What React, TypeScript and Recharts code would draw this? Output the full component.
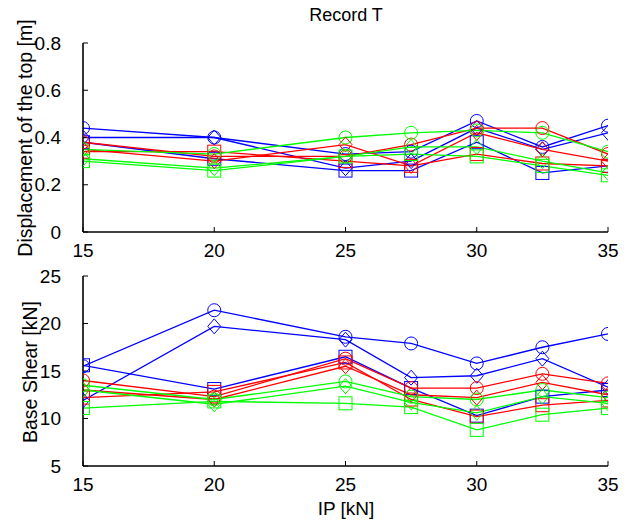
import React from 'react';
import { LineChart, Line, XAxis, YAxis } from 'recharts';

const ipValues = [15, 20, 25, 27.5, 30, 32.5, 35];
const xTicks = [15, 20, 25, 30, 35];
const dispTicks = [0, 0.2, 0.4, 0.6, 0.8];
const shearTicks = [5, 10, 15, 20, 25];

// Displacement of the top [m]
const dispBlueCircle = [0.44, 0.40, 0.33, 0.34, 0.47, 0.36, 0.45];
const dispBlueDiamond = [0.40, 0.40, 0.27, 0.30, 0.44, 0.35, 0.42];
const dispBlueSquare = [0.38, 0.31, 0.26, 0.26, 0.38, 0.25, 0.28];
const dispRedCircle = [0.38, 0.32, 0.32, 0.37, 0.44, 0.44, 0.33];
const dispRedDiamond = [0.35, 0.30, 0.37, 0.28, 0.42, 0.35, 0.30];
const dispRedSquare = [0.34, 0.34, 0.30, 0.28, 0.33, 0.29, 0.28];
const dispGreenCircle = [0.35, 0.33, 0.40, 0.42, 0.43, 0.42, 0.34];
const dispGreenDiamond = [0.31, 0.27, 0.32, 0.36, 0.36, 0.30, 0.25];
const dispGreenSquare = [0.30, 0.26, 0.32, 0.33, 0.32, 0.28, 0.24];

// Base Shear [kN]
const shearBlueCircle = [15.5, 21.4, 18.6, 17.9, 15.8, 17.5, 18.9];
const shearBlueDiamond = [11.9, 19.7, 18.3, 14.3, 14.5, 16.3, 13.3];
const shearBlueSquare = [15.6, 13.1, 16.5, 13.2, 10.3, 12.3, 13.0];
const shearRedCircle = [14.0, 12.3, 16.3, 13.2, 13.2, 14.7, 13.7];
const shearRedDiamond = [13.0, 12.0, 15.5, 12.5, 12.2, 13.8, 12.5];
const shearRedSquare = [12.2, 12.8, 15.9, 12.0, 10.2, 11.4, 11.9];
const shearGreenCircle = [13.5, 12.0, 13.9, 12.3, 12.0, 13.0, 12.2];
const shearGreenDiamond = [13.0, 11.5, 13.4, 11.7, 10.6, 12.3, 11.6];
const shearGreenSquare = [11.1, 11.8, 11.6, 11.2, 8.8, 10.4, 11.1];

const BLUE = '#0000ff';
const RED = '#ff0000';
const GREEN = '#00ff00';
const FONT = '"Liberation Sans", Arial, sans-serif';

type SeriesDef = { key: string; color: string; marker: string };
const seriesDefs: SeriesDef[] = [
  { key: 'bc', color: BLUE, marker: 'circle' },
  { key: 'bd', color: BLUE, marker: 'diamond' },
  { key: 'bs', color: BLUE, marker: 'square' },
  { key: 'rc', color: RED, marker: 'circle' },
  { key: 'rd', color: RED, marker: 'diamond' },
  { key: 'rs', color: RED, marker: 'square' },
  { key: 'gc', color: GREEN, marker: 'circle' },
  { key: 'gd', color: GREEN, marker: 'diamond' },
  { key: 'gs', color: GREEN, marker: 'square' },
];

const buildRows = (cols: Record<string, number[]>) =>
  ipValues.map((ip, i) => {
    const row: Record<string, number> = { ip };
    Object.keys(cols).forEach((k) => {
      row[k] = cols[k][i];
    });
    return row;
  });

const dispData = buildRows({
  bc: dispBlueCircle, bd: dispBlueDiamond, bs: dispBlueSquare,
  rc: dispRedCircle, rd: dispRedDiamond, rs: dispRedSquare,
  gc: dispGreenCircle, gd: dispGreenDiamond, gs: dispGreenSquare,
});

const shearData = buildRows({
  bc: shearBlueCircle, bd: shearBlueDiamond, bs: shearBlueSquare,
  rc: shearRedCircle, rd: shearRedDiamond, rs: shearRedSquare,
  gc: shearGreenCircle, gd: shearGreenDiamond, gs: shearGreenSquare,
});

const makeDot = (color: string, marker: string, prefix: string) => (props: any) => {
  const { cx, cy, index } = props;
  const k = `${prefix}-${marker}-${color}-${index}`;
  if (cx == null || cy == null) return <g key={k} />;
  if (marker === 'circle') {
    return <circle key={k} cx={cx} cy={cy} r={6.5} fill="none" stroke={color} strokeWidth={1} />;
  }
  if (marker === 'square') {
    return <rect key={k} x={cx - 6.5} y={cy - 6.5} width={13} height={13} fill="none" stroke={color} strokeWidth={1} />;
  }
  return (
    <polygon
      key={k}
      points={`${cx},${cy - 7.5} ${cx + 6.5},${cy} ${cx},${cy + 7.5} ${cx - 6.5},${cy}`}
      fill="none"
      stroke={color}
      strokeWidth={1}
    />
  );
};

const tickStyle = { fill: '#000', fontSize: 19, fontFamily: FONT };
const axisLineStyle = { stroke: '#000', strokeWidth: 1.6 };

const Panel = ({ data, height, top, bottomH, yDomain, yTicks, prefix }: any) => (
  <LineChart
    width={640}
    height={height}
    data={data}
    margin={{ top, right: 32, bottom: 0, left: 23 }}
  >
    <XAxis
      xAxisId="b"
      dataKey="ip"
      type="number"
      domain={[15, 35]}
      ticks={xTicks}
      interval={0}
      orientation="bottom"
      height={bottomH}
      tickSize={-5}
      tickMargin={17}
      tick={tickStyle}
      axisLine={axisLineStyle}
      tickLine={{ stroke: '#000' }}
      allowDataOverflow
    />
    <XAxis
      xAxisId="t"
      type="number"
      domain={[15, 35]}
      ticks={xTicks}
      interval={0}
      orientation="top"
      height={0}
      tickSize={-5}
      tickFormatter={() => ''}
      axisLine={axisLineStyle}
      tickLine={{ stroke: '#000' }}
      allowDataOverflow
    />
    <YAxis
      yAxisId="l"
      type="number"
      domain={yDomain}
      ticks={yTicks}
      interval={0}
      width={60}
      tickSize={-5}
      tickMargin={27}
      tick={tickStyle}
      axisLine={axisLineStyle}
      tickLine={{ stroke: '#000' }}
      allowDataOverflow
    />
    <YAxis
      yAxisId="r"
      orientation="right"
      type="number"
      domain={yDomain}
      ticks={yTicks}
      interval={0}
      width={0}
      tickSize={-5}
      tickFormatter={() => ''}
      axisLine={axisLineStyle}
      tickLine={{ stroke: '#000' }}
      allowDataOverflow
    />
    {seriesDefs.map((s) => (
      <Line
        key={s.key}
        xAxisId="b"
        yAxisId="l"
        dataKey={s.key}
        type="linear"
        stroke={s.color}
        strokeWidth={1.3}
        dot={makeDot(s.color, s.marker, prefix)}
        activeDot={false}
        isAnimationActive={false}
      />
    ))}
  </LineChart>
);

export default function App() {
  return (
    <div style={{ position: 'absolute', left: 0, top: 0, width: 640, height: 522, background: '#fff' }}>
      <div style={{ position: 'absolute', left: 0, top: 0 }}>
        <Panel data={dispData} height={260} top={43} bottomH={28} yDomain={[0, 0.8]} yTicks={dispTicks} prefix="d" />
      </div>
      <div style={{ position: 'absolute', left: 0, top: 260 }}>
        <Panel data={shearData} height={262} top={16} bottomH={56} yDomain={[5, 25]} yTicks={shearTicks} prefix="s" />
      </div>
      <svg
        width={640}
        height={522}
        style={{ position: 'absolute', left: 0, top: 0, pointerEvents: 'none' }}
      >
        <text x={346} y={21} textAnchor="middle" fontSize={18} fontFamily={FONT} fill="#000">
          Record T
        </text>
        <text
          x={25}
          y={138}
          transform="rotate(-90, 25, 138)"
          textAnchor="middle"
          dominantBaseline="central"
          fontSize={19.5}
          fontFamily={FONT}
          fill="#000"
        >
          Displacement of the top [m]
        </text>
        <text
          x={30}
          y={372}
          transform="rotate(-90, 30, 372)"
          textAnchor="middle"
          dominantBaseline="central"
          fontSize={19.5}
          fontFamily={FONT}
          fill="#000"
        >
          Base Shear [kN]
        </text>
        <text x={346} y={515} textAnchor="middle" fontSize={19} fontFamily={FONT} fill="#000">
          IP [kN]
        </text>
      </svg>
    </div>
  );
}
